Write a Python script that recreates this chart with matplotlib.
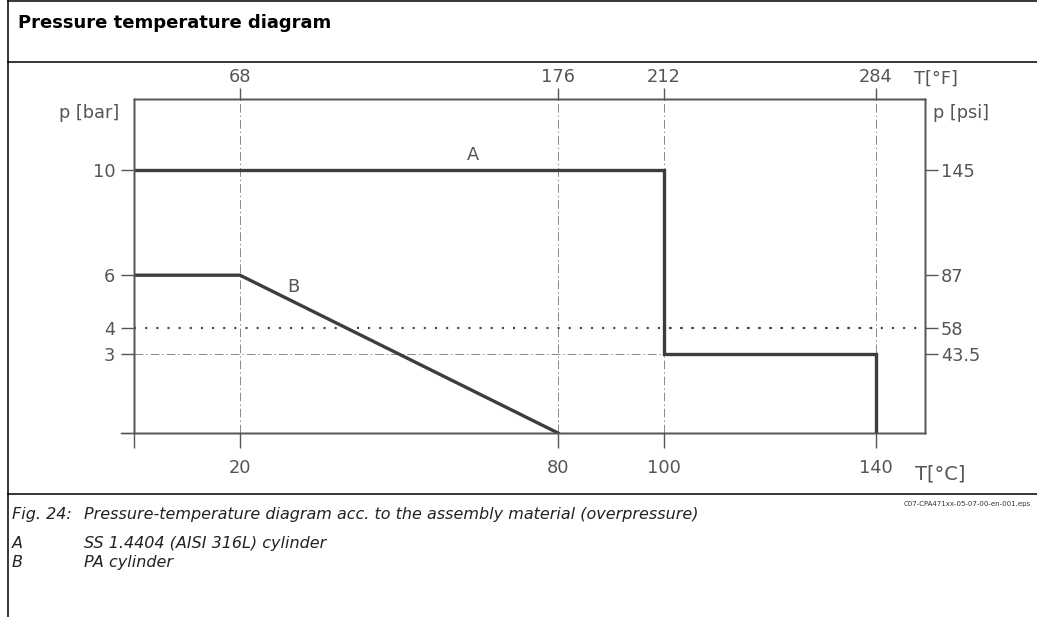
import matplotlib
matplotlib.use('Agg')
import matplotlib.pyplot as plt
from matplotlib.lines import Line2D

# pressure-temperature curves (T in °C, p in bar)
temp_a = [0, 100, 100, 140, 140]
press_a = [10, 10, 3, 3, 0]
temp_b = [0, 20, 80]
press_b = [6, 6, 0]

celsius_ticks = [20, 80, 100, 140]
fahrenheit_labels = ['68', '176', '212', '284']
bar_ticks = [3, 4, 6, 10]
psi_labels = ['43.5', '58', '87', '145']

plt.rcParams['font.family'] = ['DejaVu Sans']

W, H = 1037, 617
fig = plt.figure(figsize=(W / 100, H / 100), dpi=100)

def px(x, y):
    return x / W, 1 - y / H

x0, x1 = 134, 925
y0, y1 = 433, 99
ax = fig.add_axes([x0 / W, 1 - y0 / H, (x1 - x0) / W, (y0 - y1) / H])
xmax = (x1 - x0) / 5.3
ymax = (y0 - y1) / 26.3
ax.set_xlim(0, xmax)
ax.set_ylim(0, ymax)

grey = '#555555'
line_col = '#3d3d3d'
fs = 12.8
for s in ax.spines.values():
    s.set_color(grey)
    s.set_linewidth(1.0)

ax.set_xticks([0] + celsius_ticks)
ax.set_xticklabels([''] + [str(t) for t in celsius_ticks])
ax.set_yticks([0] + bar_ticks)
ax.set_yticklabels([''] + [str(b) for b in bar_ticks])
ax.tick_params(axis='x', direction='out', length=10.5, width=1.0, color=grey,
               pad=8, labelsize=fs, labelcolor=grey)
ax.tick_params(axis='y', direction='out', length=9.5, width=1.0, color=grey,
               pad=4, labelsize=fs, labelcolor=grey)

# extend bottom axis a little to the left of the p axis
ax.plot([-13 / 5.3, 0], [0, 0], color=grey, lw=1.0, clip_on=False)

# top Fahrenheit axis
axt = ax.twiny()
axt.set_xlim(0, xmax)
axt.set_xticks(celsius_ticks)
axt.set_xticklabels(fahrenheit_labels)
axt.tick_params(axis='x', direction='out', length=8, width=1.0, color=grey,
                pad=1.5, labelsize=fs, labelcolor=grey)

# right psi axis
axr = ax.twinx()
axr.set_ylim(0, ymax)
axr.set_yticks(bar_ticks)
axr.set_yticklabels(psi_labels)
axr.tick_params(axis='y', direction='out', length=9.5, width=1.0, color=grey,
                pad=2, labelsize=fs, labelcolor=grey)
for a in (axt, axr):
    for s in a.spines.values():
        s.set_color(grey)
        s.set_linewidth(1.0)

# guide lines
dashdot = (0, (9, 3, 1.5, 3))
for t in celsius_ticks:
    ax.plot([t, t], [0, ymax], color='#888888', lw=0.7, ls=dashdot, zorder=1)
ax.plot([0, 100], [3, 3], color='#888888', lw=0.7, ls=dashdot, zorder=1)
ax.plot([0, xmax], [4, 4], color='#444444', lw=1.5, ls=(0, (1, 4.35)), zorder=1)
ax.plot([100, 140], [4, 4], color='#444444', lw=1.5, ls=(2.7, (1, 4.35)), zorder=1)

# curves
ax.plot(temp_a, press_a, color=line_col, lw=2.4, solid_joinstyle='miter', zorder=3)
ax.plot(temp_b, press_b, color=line_col, lw=2.4, solid_joinstyle='miter', zorder=3)
ax.text(64, 10.57, 'A', ha='center', va='center', fontsize=fs, color=grey)
ax.text(30, 5.55, 'B', ha='center', va='center', fontsize=fs, color=grey)

# axis captions
fig.text(*px(119, 118), 'p [bar]', ha='right', va='baseline', fontsize=fs, color=grey)
fig.text(*px(933, 118), 'p [psi]', ha='left', va='baseline', fontsize=fs, color=grey)
fig.text(*px(914, 84), 'T[°F]', ha='left', va='baseline', fontsize=fs, color=grey)
fig.text(*px(915, 480), 'T[°C]', ha='left', va='baseline', fontsize=14, color=grey)

# page frame
frame = dict(transform=fig.transFigure, color='black', lw=1.1)
fig.add_artist(Line2D([8 / W, 8 / W], [0, 1], **frame))
fig.add_artist(Line2D([8 / W, 1], [1 - 0.6 / H] * 2, **frame))
fig.add_artist(Line2D([8 / W, 1], [1 - 62 / H] * 2, **frame))
fig.add_artist(Line2D([8 / W, 1], [1 - 494 / H] * 2, **frame))

fig.text(*px(18, 28), 'Pressure temperature diagram', ha='left', va='baseline',
         fontsize=13, fontweight='bold', color='black')
fig.text(*px(1031, 506), 'C07-CPA471xx-05-07-00-en-001.eps', ha='right',
         va='baseline', fontsize=5, color='#333333')

cap = dict(ha='left', va='baseline', fontsize=11.5, style='italic', color='#222222')
fig.text(*px(12, 519), 'Fig. 24:', **cap)
fig.text(*px(84, 519), 'Pressure-temperature diagram acc. to the assembly material (overpressure)', **cap)
fig.text(*px(12, 548), 'A', **cap)
fig.text(*px(84, 548), 'SS 1.4404 (AISI 316L) cylinder', **cap)
fig.text(*px(12, 567), 'B', **cap)
fig.text(*px(84, 567), 'PA cylinder', **cap)

fig.savefig('out.png', dpi=100)
